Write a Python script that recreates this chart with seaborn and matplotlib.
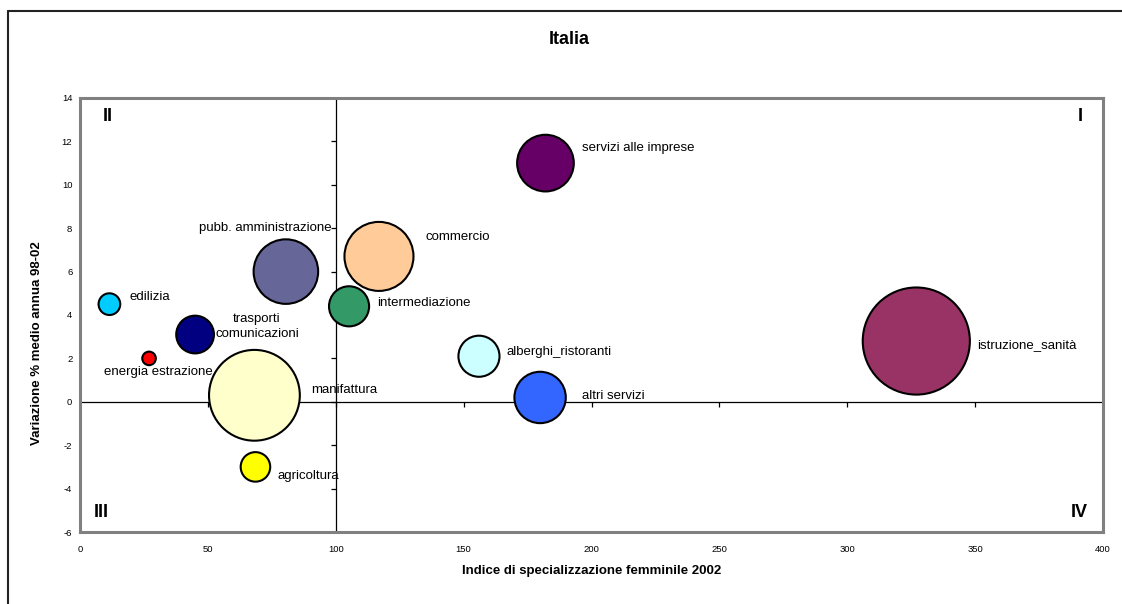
import matplotlib
matplotlib.use("Agg")
import matplotlib.pyplot as plt
from matplotlib.lines import Line2D
import seaborn as sns
import pandas as pd

# Settori economici: indice di specializzazione femminile, variazione e peso occupazionale
settori = [
    "edilizia", "energia estrazione", "trasporti\ncomunicazioni",
    "pubb. amministrazione", "manifattura", "agricoltura", "commercio",
    "intermediazione", "servizi alle imprese", "alberghi_ristoranti",
    "altri servizi", "istruzione_sanità",
]
indice = [11.5, 27.0, 45.0, 80.5, 68.2, 68.6, 116.9, 105.2, 182.0, 156.0, 179.9, 327.0]
variazione = [4.5, 2.0, 3.1, 6.0, 0.3, -3.0, 6.7, 4.4, 11.0, 2.1, 0.2, 2.8]
peso = [4.1, 1.6, 12.4, 36.3, 71.8, 7.6, 41.5, 14.0, 28.0, 14.7, 23.0, 100.0]
colori = [
    "#00CCFF", "#FF0000", "#000080", "#666699", "#FFFFCC", "#FFFF00",
    "#FFCC99", "#339966", "#660066", "#CCFFFF", "#3366FF", "#993366",
]
x_ticks = [0, 50, 100, 150, 200, 250, 300, 350, 400]
y_ticks = [-6, -4, -2, 0, 2, 4, 6, 8, 10, 12, 14]
quadranti = ["I", "II", "III", "IV"]

df = pd.DataFrame({"settore": settori, "indice": indice,
                   "variazione": variazione, "peso": peso})
# largest bubbles first so the small ones stay visible on top
df = df.sort_values("peso", ascending=False)

sns.set_style("white")
plt.rcParams["font.family"] = ["Liberation Sans", "DejaVu Sans"]
plt.rcParams["text.color"] = "black"
plt.rcParams["axes.labelcolor"] = "black"
plt.rcParams["axes.unicode_minus"] = False

fig = plt.figure(figsize=(11.22, 6.04), dpi=100)
ax = fig.add_axes([80 / 1122, 1 - 532 / 604, 1023 / 1122, 434 / 604])

sns.scatterplot(
    data=df, x="indice", y="variazione", hue="settore",
    palette=dict(zip(settori, colori)), size="peso",
    sizes=(0, 5950), size_norm=(0, 100), legend=False,
    edgecolor="black", linewidth=1.5, alpha=1, zorder=3, ax=ax,
)

ax.set_xlim(0, 400)
ax.set_ylim(-6, 14)
ax.set_xticks(x_ticks)
ax.set_yticks(y_ticks)
ax.tick_params(axis="both", length=0, labelsize=6.8, colors="black")
ax.tick_params(axis="x", pad=9)
ax.tick_params(axis="y", pad=5.5)

for s in ax.spines.values():
    s.set_color("#808080")
    s.set_linewidth(2.2)
    s.set_visible(True)

# crossing axes at x=100 and y=0, with their tick marks
ax.axvline(100, color="black", lw=0.9, zorder=2)
ax.axhline(0, color="black", lw=0.9, zorder=2)
ax.plot(x_ticks, [0] * len(x_ticks), ls="", marker=3, ms=3.5, mew=0.9,
        color="black", zorder=2, clip_on=False)
ax.plot([100] * len(y_ticks), y_ticks, ls="", marker=0, ms=3.5, mew=0.9,
        color="black", zorder=2, clip_on=False)

# data labels: offset from the bubble centre in pixels (dx, dy downwards), alignment
offsets = {
    "edilizia": (20, -7, "left"),
    "energia estrazione": (9, 14, "center"),
    "trasporti\ncomunicazioni": (62, -8, "center"),
    "pubb. amministrazione": (-21, -44, "center"),
    "manifattura": (57, -5, "left"),
    "agricoltura": (22, 9, "left"),
    "commercio": (47, -19, "left"),
    "intermediazione": (28, -3, "left"),
    "servizi alle imprese": (37, -15, "left"),
    "alberghi_ristoranti": (28, -4, "left"),
    "altri servizi": (42, -1, "left"),
    "istruzione_sanità": (61, 4, "left"),
}
for nome, xv, yv in zip(settori, indice, variazione):
    dx, dy, ha = offsets[nome]
    ax.annotate(nome, (xv, yv), xytext=(dx * 0.72, -dy * 0.72),
                textcoords="offset points", ha=ha, va="center",
                fontsize=9.5, linespacing=1.25, zorder=1, color="black")

# quadrant numerals
pos_q = {"I": (0.978, 0.958), "II": (0.027, 0.958),
         "III": (0.021, 0.044), "IV": (0.977, 0.044)}
for q in quadranti:
    ax.text(*pos_q[q], q, transform=ax.transAxes, ha="center", va="center",
            fontsize=13, fontweight="bold", color="black")

ax.set_xlabel("Indice di specializzazione femminile 2002", fontsize=9.5,
              fontweight="bold")
ax.set_ylabel("Variazione % medio annua 98-02", fontsize=9.5, fontweight="bold")
ax.xaxis.label.set_va("center")
ax.yaxis.label.set_va("center")
ax.xaxis.set_label_coords(0.5, -0.09)
ax.yaxis.set_label_coords(-0.042, 0.435)

fig.text(569 / 1122, 1 - 39 / 604, "Italia", ha="center", va="center",
         fontsize=13, fontweight="bold", color="black")

# chart frame (top and left edges)
fig.add_artist(Line2D([8 / 1122, 8 / 1122], [0, 1 - 11 / 604],
                      color="#222222", lw=1.5))
fig.add_artist(Line2D([8 / 1122, 1], [1 - 11 / 604, 1 - 11 / 604],
                      color="#222222", lw=1.5))

fig.savefig("out.png", dpi=100)
